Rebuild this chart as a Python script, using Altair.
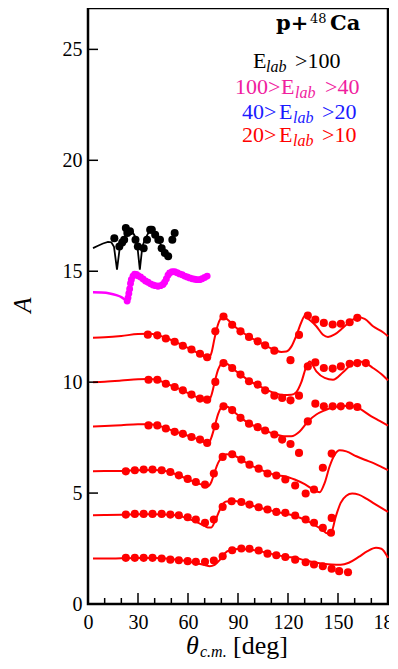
import altair as alt
import pandas as pd

SERIF = "Liberation Serif"

# ---------------- data (theta_cm [deg], A) ----------------
# red curves (20 > E_lab > 10), stacked with offsets 12,10,8,6,4,2
c1_line_x = [3, 10, 20, 30, 36, 42, 47, 52, 57, 62, 67, 70, 72, 74, 76, 78, 81, 84, 87, 92, 97, 102, 107, 112, 116, 119, 122, 125, 128, 130, 133, 137, 141, 144, 148, 153, 158, 162, 166, 171, 177, 180]
c1_line_y = [12.0, 12.02, 12.08, 12.17, 12.18, 12.12, 11.99, 11.83, 11.65, 11.47, 11.27, 11.14, 11.05, 11.3, 12.0, 12.6, 12.95, 12.8, 12.58, 12.28, 12.03, 11.83, 11.63, 11.45, 11.36, 11.38, 11.6, 12.1, 12.7, 12.98, 12.8, 12.52, 12.14, 12.04, 12.15, 12.45, 12.78, 12.92, 12.85, 12.52, 12.25, 12.07]
c1_pts_x = [35.9, 41.6, 46.7, 52.0, 56.9, 62.1, 67.2, 71.5, 76.4, 81.3, 86.5, 91.5, 96.6, 101.8, 106.3, 111.8, 121.5, 126.6, 131.9, 136.4, 141.5, 146.8, 151.7, 157.0, 161.6]
c1_pts_y = [12.14, 12.11, 11.97, 11.82, 11.64, 11.47, 11.28, 11.12, 12.29, 12.96, 12.59, 12.29, 12.04, 11.84, 11.66, 11.42, 10.99, 12.13, 13.0, 12.82, 12.67, 12.6, 12.63, 12.7, 12.9]

c2_line_x = [3, 10, 20, 30, 36, 42, 47, 52, 57, 62, 67, 70, 72, 74, 76, 78, 81, 84, 87, 92, 97, 102, 107, 112, 117, 122, 125, 128, 131, 133, 137, 142, 147, 153, 158, 162, 166, 171, 177, 180]
c2_line_y = [10.0, 10.02, 10.07, 10.13, 10.14, 10.09, 9.94, 9.78, 9.62, 9.44, 9.27, 9.16, 9.12, 9.4, 10.0, 10.55, 10.88, 10.8, 10.6, 10.32, 10.05, 9.86, 9.66, 9.5, 9.42, 9.43, 9.55, 10.0, 10.7, 10.93, 10.49, 10.19, 10.11, 10.45, 10.79, 10.93, 10.88, 10.64, 10.3, 10.08]
c2_pts_x = [36.3, 41.6, 46.7, 52.0, 56.9, 62.1, 67.2, 71.5, 76.4, 81.3, 86.5, 91.5, 96.6, 101.8, 106.3, 111.8, 116.5, 121.5, 126.6, 131.9, 136.4, 141.5, 146.8, 151.7, 157.0, 161.6, 166.7]
c2_pts_y = [10.11, 10.11, 9.93, 9.78, 9.63, 9.44, 9.26, 9.21, 10.01, 10.86, 10.64, 10.34, 10.04, 9.89, 9.63, 9.39, 9.29, 9.18, 9.39, 10.71, 10.89, 10.64, 10.61, 10.71, 10.83, 10.86, 10.86]

c3_line_x = [3, 10, 20, 30, 36, 42, 47, 52, 57, 62, 67, 70, 72, 74, 76, 78, 81, 84, 87, 92, 97, 102, 107, 112, 118, 122, 127, 132, 137, 142, 147, 152, 157, 162, 170, 175, 180]
c3_line_y = [8.0, 8.02, 8.06, 8.1, 8.1, 8.04, 7.92, 7.78, 7.66, 7.53, 7.4, 7.28, 7.2, 7.5, 8.0, 8.55, 8.93, 8.88, 8.7, 8.38, 8.12, 7.96, 7.8, 7.66, 7.56, 7.56, 7.78, 8.23, 8.54, 8.73, 8.87, 8.91, 8.94, 8.84, 8.46, 8.25, 8.04]
c3_pts_x = [36.3, 41.6, 46.7, 52.0, 56.9, 62.1, 67.2, 71.5, 76.4, 81.3, 86.5, 91.5, 96.6, 101.8, 106.3, 111.8, 116.5, 121.5, 126.6, 131.9, 136.4, 141.5, 146.8, 151.7, 157.0, 161.6]
c3_pts_y = [8.05, 8.05, 7.91, 7.76, 7.67, 7.53, 7.41, 7.26, 8.01, 8.91, 8.74, 8.39, 8.13, 7.97, 7.82, 7.64, 7.41, 7.21, 6.81, 8.23, 9.03, 8.91, 8.91, 8.91, 8.94, 8.88]

c4_line_x = [3, 10, 20, 30, 40, 45, 50, 55, 60, 65, 69, 72, 74, 76, 78, 80.5, 83, 87, 92, 97, 102, 108, 113, 118, 124, 130, 135, 139, 142, 145, 148, 151, 155, 161, 166, 171, 176, 180]
c4_line_y = [5.98, 5.99, 6.0, 6.03, 6.04, 6.02, 5.93, 5.78, 5.62, 5.47, 5.36, 5.31, 5.5, 5.95, 6.35, 6.62, 6.75, 6.72, 6.5, 6.28, 6.1, 5.92, 5.8, 5.76, 5.61, 5.4, 5.17, 5.04, 5.46, 6.21, 6.73, 6.93, 6.88, 6.66, 6.5, 6.36, 6.18, 6.03]
c4_pts_x = [22.7, 28.1, 33.4, 38.7, 44.2, 49.4, 54.5, 59.8, 64.7, 70.2, 75.5, 80.8, 86.5, 92.0, 96.9, 102.4, 107.7, 113.0, 118.4, 124.3, 130.6, 135.6, 140.9, 146.2]
c4_pts_y = [5.98, 6.03, 6.06, 6.06, 6.03, 5.95, 5.80, 5.64, 5.50, 5.38, 5.88, 6.63, 6.75, 6.51, 6.28, 6.10, 5.88, 5.79, 5.61, 5.34, 4.98, 5.16, 6.14, 6.78]

c5_line_x = [3, 10, 20, 30, 40, 50, 55, 60, 65, 70, 72, 74, 76, 78, 80, 83, 88, 92, 97, 102, 108, 113, 118, 124, 130, 135, 140, 143, 145.4, 148.7, 151.6, 155, 158.5, 162.4, 167, 171, 176, 180]
c5_line_y = [4.0, 4.01, 4.02, 4.04, 4.05, 4.02, 3.96, 3.85, 3.7, 3.52, 3.45, 3.45, 3.7, 4.05, 4.4, 4.62, 4.64, 4.58, 4.47, 4.36, 4.25, 4.15, 4.08, 3.97, 3.8, 3.6, 3.37, 3.2, 3.13, 3.95, 4.56, 4.88, 4.98, 4.93, 4.75, 4.56, 4.33, 4.15]
c5_pts_x = [22.7, 28.1, 33.4, 38.7, 44.2, 49.4, 54.5, 59.8, 64.7, 70.2, 75.5, 80.8, 86.2, 92.0, 96.9, 102.4, 107.7, 113.0, 118.4, 124.3, 130.6, 135.6, 140.9, 145.8, 146.2]
c5_pts_y = [4.03, 4.06, 4.06, 4.06, 4.06, 4.03, 4.0, 3.91, 3.81, 3.66, 3.81, 4.38, 4.63, 4.60, 4.48, 4.36, 4.26, 4.15, 4.11, 3.99, 3.81, 3.66, 3.43, 3.21, 3.88]

c6_line_x = [3, 10, 20, 30, 40, 50, 55, 60, 65, 70, 73, 76, 79, 82, 85, 90, 95, 100, 105, 110, 115, 120, 124.3, 130.6, 135.6, 140.9, 146.2, 151.6, 156.5, 162.4, 167.7, 172.8, 176, 180]
c6_line_y = [2.05, 2.05, 2.06, 2.07, 2.07, 2.03, 1.98, 1.92, 1.84, 1.76, 1.70, 1.76, 1.98, 2.28, 2.42, 2.48, 2.47, 2.42, 2.35, 2.26, 2.18, 2.12, 2.08, 1.96, 1.88, 1.82, 1.78, 1.77, 1.86, 2.12, 2.38, 2.53, 2.49, 2.08]
c6_pts_x = [22.7, 28.1, 33.4, 38.7, 44.2, 49.4, 54.5, 59.8, 64.7, 70.2, 75.5, 80.8, 86.5, 92.0, 96.9, 102.4, 107.7, 113.0, 118.4, 124.3, 130.6, 135.6, 140.9, 146.2, 150.7, 156.0]
c6_pts_y = [2.08, 2.08, 2.08, 2.08, 2.05, 2.0, 1.97, 1.93, 1.90, 1.90, 1.96, 2.15, 2.42, 2.50, 2.49, 2.41, 2.27, 2.20, 2.12, 2.0, 1.88, 1.78, 1.70, 1.59, 1.48, 1.43]

# magenta (100 > E_lab > 40)
mag_line_x = [3, 8, 13, 17, 20, 22, 24]
mag_line_y = [14.05, 14.04, 14.0, 13.92, 13.83, 13.73, 13.62]
mag_pts_x = [23.5, 24.0, 24.5, 25.0, 25.5, 26.0, 27.0, 28.0, 29.0, 30.0, 31.5, 33.0, 34.5, 36.0, 37.5, 39.0, 40.5, 42.0, 43.5, 45.0, 46.0, 47.0, 48.0, 49.0, 50.5, 52.0, 53.5, 55.0, 56.5, 58.0, 59.5, 61.0, 62.5, 64.0, 65.5, 67.0, 68.5, 70.0, 71.5]
mag_pts_y = [13.66, 13.8, 14.0, 14.2, 14.45, 14.62, 14.78, 14.86, 14.85, 14.8, 14.74, 14.65, 14.56, 14.5, 14.43, 14.38, 14.35, 14.32, 14.35, 14.4, 14.5, 14.65, 14.82, 14.92, 14.98, 14.98, 14.93, 14.88, 14.84, 14.78, 14.74, 14.7, 14.66, 14.64, 14.62, 14.62, 14.66, 14.72, 14.78]

# black (E_lab > 100)
blk_line_x = [3, 6, 9, 12, 14, 15.6, 17.4, 19.2, 20.5, 22, 24, 26, 28, 29.6, 31.1, 32.6, 34, 36, 38.3, 40.5, 43, 46, 48.5]
blk_line_y = [16.04, 16.15, 16.25, 16.32, 16.3, 16.1, 15.07, 16.15, 16.3, 16.55, 16.8, 16.85, 16.6, 16.15, 15.07, 16.1, 16.4, 16.7, 16.85, 16.65, 16.3, 15.85, 15.6]
blk_pts_x = [15.8, 18.8, 20.5, 21.7, 22.7, 23.6, 25.2, 28.5, 29.9, 33.4, 35.4, 37.3, 38.3, 40.3, 42.2, 43.2, 44.2, 46.1, 48.1, 50.6, 52.0]
blk_pts_y = [16.49, 16.12, 16.3, 16.42, 16.95, 16.72, 16.8, 16.42, 16.12, 16.04, 16.42, 16.87, 16.87, 16.64, 16.42, 16.42, 16.04, 15.82, 15.67, 16.42, 16.72]

x_major = [0, 30, 60, 90, 120, 150, 180]
x_minor = [10, 20, 40, 50, 70, 80, 100, 110, 130, 140, 160, 170]
y_major = [0, 5, 10, 15, 20, 25]

# ---------------- tables ----------------
red_lines = [(c1_line_x, c1_line_y), (c2_line_x, c2_line_y), (c3_line_x, c3_line_y),
             (c4_line_x, c4_line_y), (c5_line_x, c5_line_y), (c6_line_x, c6_line_y)]
red_pts = [(c1_pts_x, c1_pts_y), (c2_pts_x, c2_pts_y), (c3_pts_x, c3_pts_y),
           (c4_pts_x, c4_pts_y), (c5_pts_x, c5_pts_y), (c6_pts_x, c6_pts_y)]

def lines_table(pairs):
    rows = []
    for i, (xs, ys) in enumerate(pairs):
        for k, (a, b) in enumerate(zip(xs, ys)):
            rows.append({"deg": a, "val": b, "curve": i, "order": k})
    return pd.DataFrame(rows)

red_line_df = lines_table(red_lines)
red_pts_df = lines_table(red_pts)
mag_line_df = pd.DataFrame({"deg": mag_line_x, "val": mag_line_y})
mag_pts_df = pd.DataFrame({"deg": mag_pts_x, "val": mag_pts_y})
blk_line_df = pd.DataFrame({"deg": blk_line_x, "val": blk_line_y})
blk_pts_df = pd.DataFrame({"deg": blk_pts_x, "val": blk_pts_y})

x_axis = alt.Axis(values=x_major, labelFlush=False, labelPadding=8, title=None)
y_axis = alt.Axis(values=y_major, labelPadding=6, title=None)

Y_TOP = 26.865

def X(field="deg"):
    return alt.X(f"{field}:Q", scale=alt.Scale(domain=[0, 180], nice=False, zero=False), axis=x_axis)

def Y(field="val"):
    return alt.Y(f"{field}:Q", scale=alt.Scale(domain=[0, Y_TOP], nice=False), axis=y_axis)

W, H = 300, 596

red_line = alt.Chart(red_line_df).mark_line(color="#ff0000", strokeWidth=2, interpolate="monotone").encode(
    x=X(), y=Y(), detail="curve:N", order="order:Q")
red_pt = alt.Chart(red_pts_df).mark_circle(color="#ff0000", size=66, opacity=1).encode(x=X(), y=Y())
mag_line = alt.Chart(mag_line_df).mark_line(color="#ff00ff", strokeWidth=2.5, interpolate="monotone").encode(x=X(), y=Y())
mag_pt = alt.Chart(mag_pts_df).mark_circle(color="#ff00ff", size=48, opacity=1).encode(x=X(), y=Y())
blk_line = alt.Chart(blk_line_df).mark_line(color="#000000", strokeWidth=1.8).encode(x=X(), y=Y())
blk_pt = alt.Chart(blk_pts_df).mark_circle(color="#000000", size=64, opacity=1).encode(x=X(), y=Y())

xt_major = alt.Chart(pd.DataFrame({"deg": x_major})).mark_rule(color="black", strokeWidth=1.5).encode(
    x=X(), y=alt.value(H), y2=alt.value(H - 11))
xt_minor = alt.Chart(pd.DataFrame({"deg": x_minor})).mark_rule(color="black", strokeWidth=1.5).encode(
    x=X(), y=alt.value(H), y2=alt.value(H - 6))
yt_major = alt.Chart(pd.DataFrame({"val": y_major})).mark_rule(color="black", strokeWidth=1.5).encode(
    y=Y(), x=alt.value(0), x2=alt.value(10))

def txt(s, x, y, size, color="black", style="normal", weight="normal", font=SERIF, angle=0,
        align="left", baseline="alphabetic"):
    return alt.Chart(pd.DataFrame({"t": [s]})).mark_text(
        align=align, baseline=baseline, fontSize=size, font=font, fontStyle=style,
        fontWeight=weight, color=color, angle=angle).encode(
        x=alt.value(x), y=alt.value(y), text="t:N")

MAG_TXT = "#f0209e"
BLUE_TXT = "#1a1aff"
RED_TXT = "#ff0000"

# page -> plot coordinates: (px - 88, py - 8)
annots = [
    txt("p+", 188, 22, 21, weight="bold", font="DejaVu Serif"),
    txt("48", 222, 15, 13, font="DejaVu Serif"),
    txt("Ca", 242, 22, 21, weight="bold", font="DejaVu Serif"),
    txt("E", 165, 60, 22),
    txt("lab", 178, 64, 16, style="italic"),
    txt(">100", 207, 60, 22),
    txt("100>", 147, 86, 22, color=MAG_TXT),
    txt("E", 193, 86, 22, color=MAG_TXT),
    txt("lab", 207, 90, 16, style="italic", color=MAG_TXT),
    txt(">40", 237, 86, 22, color=MAG_TXT),
    txt("40>", 154, 111, 22, color=BLUE_TXT),
    txt("E", 191, 111, 22, color=BLUE_TXT),
    txt("lab", 205, 115, 16, style="italic", color=BLUE_TXT),
    txt(">20", 234, 111, 22, color=BLUE_TXT),
    txt("20>", 154, 134, 22, color=RED_TXT),
    txt("E", 191, 134, 22, color=RED_TXT),
    txt("lab", 205, 138, 16, style="italic", color=RED_TXT),
    txt(">10", 234, 134, 22, color=RED_TXT),
    txt("A", -65, 297, 25, style="italic", angle=270, align="center", baseline="middle"),
    txt("\u03b8", 98, 646, 26, style="italic"),
    txt("c.m.", 112, 649, 16, style="italic"),
    txt("[deg]", 145, 646, 26),
]

chart = alt.layer(
    red_line, red_pt, mag_line, mag_pt, blk_line, blk_pt, xt_major, xt_minor, yt_major, *annots
).properties(
    width=W, height=H,
    autosize=alt.AutoSizeParams(type="none"),
    padding={"left": 80, "top": 0, "right": 1, "bottom": 57},
).configure_view(
    stroke="black", strokeWidth=2.5
).configure_axis(
    grid=False, domain=False, ticks=False, labelFont=SERIF, labelFontSize=20, labelColor="black"
)

chart.save("out.html", embed_options={"renderer": "svg", "actions": False})
